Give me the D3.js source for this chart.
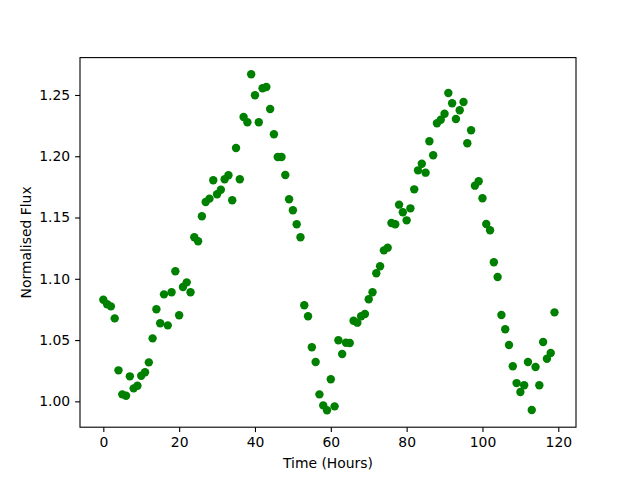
<!DOCTYPE html>
<html>
<head>
<meta charset="utf-8">
<script src="https://cdn.jsdelivr.net/npm/d3@7"></script>
<style>
  body { margin: 0; background: #fff; }
  svg { display: block; }
  text { font-family: "DejaVu Sans", sans-serif; }
</style>
</head>
<body>
<script>
const hours = d3.range(0, 120);
const flux = [
  1.0829, 1.0792, 1.0775, 1.0677, 1.0253, 1.0057, 1.0046, 1.0204, 1.0106, 1.0127,
  1.0209, 1.0237, 1.0318, 1.0514, 1.0751, 1.0637, 1.0873, 1.0620, 1.0890, 1.1061,
  1.0702, 1.0933, 1.0971, 1.0890, 1.1339, 1.1306, 1.1510, 1.1627, 1.1654, 1.1804,
  1.1690, 1.1727, 1.1812, 1.1845, 1.1641, 1.2067, 1.1812, 1.2320, 1.2277, 1.2669,
  1.2498, 1.2277, 1.2555, 1.2565, 1.2386, 1.2179, 1.1994, 1.1994, 1.1847, 1.1649,
  1.1559, 1.1445, 1.1339, 1.0784, 1.0694, 1.0441, 1.0321, 1.0057, 0.9967, 0.9927,
  1.0180, 0.9959, 1.0498, 1.0386, 1.0478, 1.0476, 1.0658, 1.0642, 1.0694, 1.0713,
  1.0833, 1.0890, 1.1045, 1.1102, 1.1232, 1.1254, 1.1455, 1.1445, 1.1605, 1.1543,
  1.1477, 1.1575, 1.1730, 1.1885, 1.1939, 1.1866, 1.2122, 1.2008, 1.2269, 1.2298,
  1.2347, 1.2516, 1.2432, 1.2304, 1.2375, 1.2443, 1.2106, 1.2212, 1.1760, 1.1796,
  1.1657, 1.1447, 1.1396, 1.1135, 1.1015, 1.0704, 1.0588, 1.0460, 1.0286, 1.0149,
  1.0076, 1.0131, 1.0321, 0.9929, 1.0280, 1.0131, 1.0484, 1.0348, 1.0394, 1.0726
];
const xTicks = [0, 20, 40, 60, 80, 100, 120];
const yTicks = [1.00, 1.05, 1.10, 1.15, 1.20, 1.25];
const xLabel = "Time (Hours)";
const yLabel = "Normalised Flux";

(function () {
  const W = 640, H = 480;
  const mLeft = 80, mRight = 576, mTop = 57.6, mBottom = 427.2;

  const svg = d3.select("body").append("svg").attr("width", W).attr("height", H);

  const x = d3.scaleLinear().domain([-6.15, 124.67]).range([mLeft, mRight]);
  const y = d3.scaleLinear().domain([0.9789, 1.2805]).range([mBottom, mTop]);

  // points
  svg.append("g").selectAll("circle")
    .data(hours.map((h, i) => [h, flux[i]]))
    .join("circle")
    .attr("cx", d => x(d[0]))
    .attr("cy", d => y(d[1]))
    .attr("r", 4.2)
    .attr("fill", "#008000");

  // axes
  const xAxis = d3.axisBottom(x).tickValues(xTicks).tickFormat(d3.format("d")).tickSize(4.9).tickPadding(4.9);
  const yAxis = d3.axisLeft(y).tickValues(yTicks).tickFormat(d3.format(".2f")).tickSize(4.9).tickPadding(4.9);

  const gx = svg.append("g").attr("transform", `translate(0,${mBottom})`).call(xAxis);
  const gy = svg.append("g").attr("transform", `translate(${mLeft},0)`).call(yAxis);
  [gx, gy].forEach(g => {
    g.select(".domain").remove();
    g.selectAll(".tick line").attr("stroke", "#000").attr("stroke-width", 1.1);
    g.selectAll(".tick text").attr("fill", "#000").style("font-size", "13.9px").style("font-family", "DejaVu Sans, sans-serif");
  });

  // frame
  svg.append("rect")
    .attr("x", mLeft).attr("y", mTop)
    .attr("width", mRight - mLeft).attr("height", mBottom - mTop)
    .attr("fill", "none").attr("stroke", "#000").attr("stroke-width", 1.1);

  // labels
  svg.append("text")
    .attr("x", (mLeft + mRight) / 2).attr("y", 468)
    .attr("text-anchor", "middle")
    .style("font-size", "13.9px")
    .text(xLabel);

  svg.append("text")
    .attr("transform", `translate(31,${(mTop + mBottom) / 2}) rotate(-90)`)
    .attr("text-anchor", "middle")
    .style("font-size", "13.9px")
    .text(yLabel);
})();
</script>
</body>
</html>
